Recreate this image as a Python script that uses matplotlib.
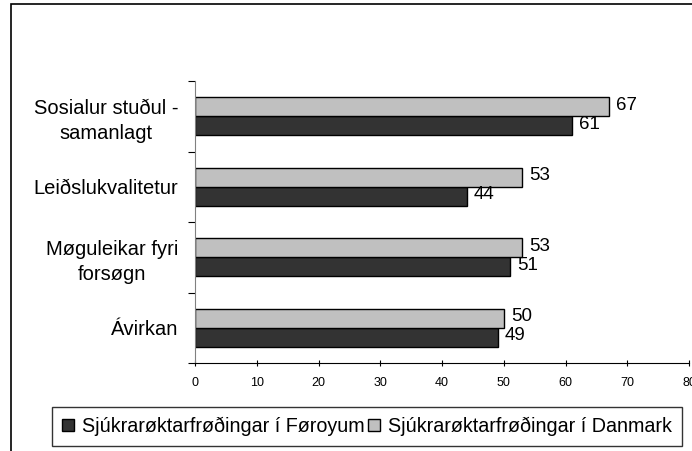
import numpy as np
import matplotlib.pyplot as plt
from matplotlib.patches import Rectangle

plt.rcParams['font.family'] = ['Liberation Sans', 'DejaVu Sans']

# Bólkar og virði
categories = ["Sosialur stuðul -\nsamanlagt", "Leiðslukvalitetur",
              "Møguleikar fyri\nforsøgn", "Ávirkan"]
foroyar = [61, 44, 51, 49]
danmark = [67, 53, 53, 50]
series_names = ["Sjúkrarøktarfrøðingar í Føroyum",
                "Sjúkrarøktarfrøðingar í Danmark"]
xticks = [0, 10, 20, 30, 40, 50, 60, 70, 80]

fig = plt.figure(figsize=(6.92, 4.51), dpi=100)
ax = fig.add_axes([195 / 692, 88 / 451, 494 / 692, 282 / 451])

# Ramma rundan um myndina
fig.patches.append(Rectangle((11 / 692, -0.05), 1.2, 0.05 + 447 / 451,
                             transform=fig.transFigure, fill=False,
                             edgecolor="black", linewidth=1.2))

y = np.arange(len(categories))
h = 0.27
b1 = ax.barh(y + h / 2, foroyar, height=h, color="#333333",
             edgecolor="black", linewidth=1, label=series_names[0])
b2 = ax.barh(y - h / 2, danmark, height=h, color="#c0c0c0",
             edgecolor="black", linewidth=1, label=series_names[1])

for bars, vals in ((b1, foroyar), (b2, danmark)):
    for bar, v in zip(bars, vals):
        ax.text(v + 1.2, bar.get_y() + bar.get_height() / 2 - 0.02, str(v),
                va="center", ha="left", fontsize=13.5)

ax.set_xlim(0, 80)
ax.set_ylim(len(categories) - 0.5, -0.5)
ax.set_xticks(xticks)
ax.set_xticklabels([str(t) for t in xticks], fontsize=9)
ax.tick_params(axis="x", direction="inout", length=4, pad=8)

# Kategoristrikur á millum bólkarnar
ax.set_yticks(np.arange(len(categories) + 1) - 0.5)
ax.set_yticklabels([])
ax.set_yticks(y, minor=True)
ax.set_yticklabels(categories, minor=True, fontsize=14.5, ha="right",
                   multialignment="center", linespacing=1.35)
ax.tick_params(axis="y", which="major", direction="out", length=5)
ax.tick_params(axis="y", which="minor", length=0, pad=12)

for s in ("top", "right"):
    ax.spines[s].set_visible(False)
ax.spines["left"].set_color("#808080")

handles = [b1, b2]
leg = fig.legend(handles, series_names, loc="lower left",
                 bbox_to_anchor=(52 / 692, 5 / 451),
                 ncol=2, fontsize=14.2, frameon=True,
                 fancybox=False, handlelength=0.6, handleheight=0.6,
                 handletextpad=0.4, columnspacing=0.2, borderpad=0.5,
                 borderaxespad=0)
leg.get_frame().set_edgecolor("black")
leg.get_frame().set_linewidth(1)

fig.savefig("out.png", dpi=100)
